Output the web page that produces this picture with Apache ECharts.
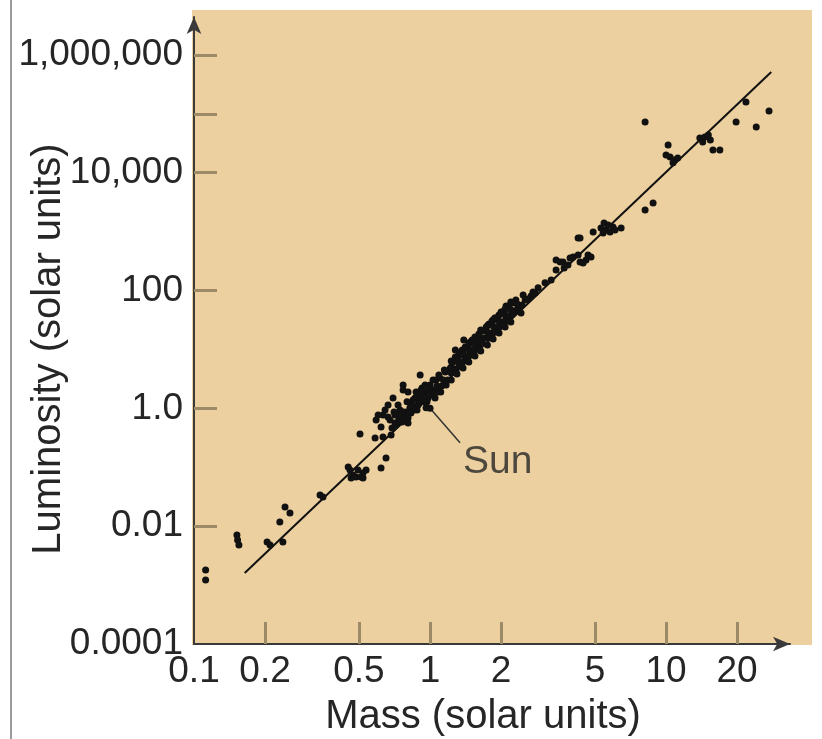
<!DOCTYPE html>
<html>
<head>
<meta charset="utf-8">
<script src="https://cdn.jsdelivr.net/npm/echarts@6/dist/echarts.min.js"></script>
<style>
html,body{margin:0;padding:0;background:#fff;}
#chart{width:822px;height:739px;}
</style>
</head>
<body>
<div id="chart"></div>
<script>
// ---- data ----
const starMass = [0.112,0.112,0.152,0.153,0.155,0.204,0.210,0.231,0.238,0.243,0.255,0.342,0.352,
  0.450,0.458,0.463,0.472,0.486,0.495,0.510,0.520,0.520,0.536,0.505,0.585,0.632,0.684,0.651,0.620,
  0.645,0.664,0.711,0.732,0.754,0.784,0.807,0.830,0.791,0.711,0.677,0.704,0.718,0.746,0.761,0.776,0.632,0.620,0.690,
  0.769,0.769,0.908,0.822,0.807,
  0.847,0.873,0.889,0.908,0.925,0.943,0.962,0.981,1.00,1.02,1.04,1.06,1.08,1.10,1.12,0.855,0.962,
  1.16,1.19,1.22,1.25,1.29,1.31,1.34,1.38,1.42,1.45,1.48,1.52,1.57,1.60,1.28,1.39,
  1.64,1.69,1.76,1.80,1.85,1.90,1.94,2.00,2.04,2.10,2.14,2.20,2.25,2.31,2.36,2.43,2.53,2.48,
  2.73,2.87,3.07,3.26,3.56,3.92,3.42,3.70,3.42,3.66,3.84,4.04,4.24,4.32,4.45,4.58,4.67,4.81,
  4.24,4.91,5.30,5.46,5.57,5.68,5.79,5.96,6.08,5.41,6.45,8.15,8.81,
  8.15,10.2,10.0,10.4,10.9,11.2,10.7,13.9,14.6,15.4,15.1,14.3,15.8,16.9,19.8,21.8,24.1,27.3,4.32,
  0.725,0.739,0.769,0.799,0.815,0.839,0.864,0.881,0.898,0.916,0.934,0.953,0.971,0.990,1.03,1.05,1.07,1.09,1.11,1.14,1.15,1.17,
  0.807,0.732,0.664,0.697,0.603,0.591,
  1.23,1.23,1.28,1.28,1.33,1.33,1.37,1.37,1.41,1.41,1.46,1.46,1.51,1.51,1.55,1.55,1.61,1.61,1.66,1.66,
  1.73,1.73,1.78,1.78,1.83,1.83,1.88,1.88,1.96,1.96,2.02,2.02,2.08,2.08,2.16,2.16,2.23,2.23,
  2.29,2.38,2.45,2.60,2.68,2.79,
  1.23,1.23,1.30,1.30,1.38,1.38,1.46,1.46,1.55,1.55,1.64,1.64,1.75,1.75,1.85,1.85,1.96,1.96,2.08,2.08,2.20,2.20,2.34];
const starLum = [0.0018,0.00122,0.0071,0.0058,0.0048,0.0054,0.0048,0.0118,0.0054,0.0212,0.0167,0.0339,0.0313,
  0.101,0.090,0.0658,0.074,0.0684,0.090,0.0684,0.080,0.0658,0.090,0.367,0.314,0.327,0.353,0.144,0.097,
  0.94,0.714,0.773,0.587,0.687,0.635,0.565,0.836,0.869,0.565,0.635,0.869,0.522,0.94,0.587,0.803,0.773,0.483,0.465,
  2.49,2.05,3.69,1.02,0.687,
  1.39,1.90,1.14,1.63,2.22,1.29,1.90,1.50,2.49,1.69,2.05,3.03,1.90,3.28,2.40,0.94,1.02,
  4.15,3.03,4.85,6.14,4.15,7.18,5.25,9.08,6.64,10.6,13.4,9.08,14.5,11.5,9.82,14.5,
  21.4,15.7,26.1,18.3,31.7,34.3,23.2,43.4,29.3,54.8,37.1,64.0,45.1,69.2,50.7,41.7,69.2,84.1,
  94.6,111,135,151,306,357,224,242,331,306,272,372,402,306,294,331,402,372,
  782,988,1156,1406,1069,1300,988,1202,1069,950,1156,2335,3070,
  72800,29600,20000,18500,16500,17800,14700,39000,40500,36100,43800,33300,24400,24400,72800,159000,60000,112000,782,
  0.773,0.635,0.869,1.29,0.836,1.14,1.50,0.94,1.39,2.05,1.63,2.49,1.29,2.05,3.03,1.50,2.40,3.69,1.90,3.03,4.49,2.49,
  1.90,1.14,1.14,1.50,0.773,0.635,
  3.99,6.38,4.67,7.46,5.46,8.73,6.14,9.82,6.90,11.0,8.07,12.4,9.08,14.5,10.2,16.3,11.9,18.3,13.4,20.6,
  15.7,24.1,16.9,27.1,19.1,30.5,21.4,34.3,25.1,38.5,27.1,43.4,30.5,48.7,35.6,54.8,40.1,61.5,
  45.1,52.7,57.0,72.0,80.9,91.0,
  5.05,3.03,6.38,3.84,8.07,4.85,10.2,6.14,12.4,7.76,15.7,9.44,19.8,11.9,25.1,15.1,30.5,19.1,38.5,24.1,46.9,29.3,59.2];
const sunMass = [1.0];
const sunLum = [1.0];
const fitMass = [0.164, 27.9];
const fitLum = [0.0016, 514000];
const sunLeaderMass = [1.0, 1.34];
const sunLeaderLum = [1.0, 0.26];
const sunLabelMass = [1.38];
const sunLabelLum = [0.123];
const xLabelValues = [0.1, 0.2, 0.5, 1, 2, 5, 10, 20];
const xLabelTexts = ['0.1', '0.2', '0.5', '1', '2', '5', '10', '20'];
const xTickValues = [0.2, 0.5, 1, 2, 5, 10, 20];
const yLabelValues = [0.0001, 0.01, 1, 100, 10000, 1000000];
const yLabelTexts = ['0.0001', '0.01', '1.0', '100', '10,000', '1,000,000'];
const yTickValues = [0.01, 1, 100, 10000, 100000, 1000000];

// ---- build ----
function pairs(a, b) { return a.map((v, i) => [v, b[i]]); }
function lookup(vals, texts) {
  return function (v) {
    for (let i = 0; i < vals.length; i++) {
      if (Math.abs(Math.log10(v) - Math.log10(vals[i])) < 0.01) return texts[i];
    }
    return '';
  };
}
const FONT = '"Liberation Sans", Arial, Helvetica, sans-serif';
const TXT = '#262626';
const TICK = { color: '#9c8a68', width: 3 };
const AXIS = { color: '#3a3a3a', width: 2 };

const chart = echarts.init(document.getElementById('chart'), null, { renderer: 'canvas' });
chart.setOption({
  backgroundColor: '#ffffff',
  animation: false,
  graphic: [
    { type: 'rect', z: -10, silent: true, shape: { x: 192, y: 10, width: 620, height: 635 }, style: { fill: '#ecd09f' } },
    { type: 'line', z: -10, silent: true, shape: { x1: 11, y1: 0, x2: 11, y2: 739 }, style: { stroke: '#9a9a9a', lineWidth: 2 } }
  ],
  grid: { left: 194, right: 32, top: 17, bottom: 95, containLabel: false, outerBoundsMode: 'none' },
  xAxis: {
    type: 'log', logBase: 10, min: 0.1, max: 33.5,
    name: 'Mass (solar units)', nameLocation: 'middle', nameGap: 53, nameMoveOverlap: false,
    nameTextStyle: { fontSize: 40, color: TXT, fontFamily: FONT, padding: [0, 18, 0, 0] },
    axisLine: { show: true, onZero: false, symbol: ['none', 'arrow'], symbolSize: [11, 17], lineStyle: AXIS },
    axisTick: { show: true, inside: true, length: 22, customValues: xTickValues, lineStyle: TICK },
    axisLabel: { customValues: xLabelValues, formatter: lookup(xLabelValues, xLabelTexts), fontSize: 37, color: TXT, fontFamily: FONT, margin: 9 },
    splitLine: { show: false }, minorTick: { show: false }, minorSplitLine: { show: false }
  },
  yAxis: {
    type: 'log', logBase: 10, min: 0.0001, max: 4400000,
    name: 'Luminosity (solar units)', nameLocation: 'middle', nameGap: 125, nameRotate: 90, nameMoveOverlap: false,
    nameTextStyle: { fontSize: 40, color: TXT, fontFamily: FONT, padding: [0, 37, 0, 0] },
    axisLine: { show: true, onZero: false, symbol: ['none', 'arrow'], symbolSize: [11, 17], lineStyle: AXIS },
    axisTick: { show: true, inside: true, length: 23, customValues: yTickValues, lineStyle: TICK },
    axisLabel: { customValues: yLabelValues, formatter: lookup(yLabelValues, yLabelTexts), fontSize: 37, color: TXT, fontFamily: FONT, margin: 11, padding: [0, 0, 10, 0] },
    splitLine: { show: false }, minorTick: { show: false }, minorSplitLine: { show: false }
  },
  series: [
    { name: 'Fit', type: 'line', data: pairs(fitMass, fitLum), symbol: 'none', lineStyle: { color: '#111', width: 2 }, z: 3, silent: true },
    { name: 'Stars', type: 'scatter', data: pairs(starMass, starLum).concat(pairs(sunMass, sunLum)), symbolSize: 7, itemStyle: { color: '#111', opacity: 1 }, z: 4 },
    { name: 'Sun leader', type: 'line', data: pairs(sunLeaderMass, sunLeaderLum), symbol: 'none', lineStyle: { color: '#333', width: 1.5 }, z: 3, silent: true },
    { name: 'Sun label', type: 'scatter', data: pairs(sunLabelMass, sunLabelLum), symbolSize: 0, silent: true,
      label: { show: true, formatter: 'Sun', position: 'right', distance: 0, fontSize: 39, color: TXT, fontFamily: FONT } }
  ]
});
</script>
</body>
</html>
